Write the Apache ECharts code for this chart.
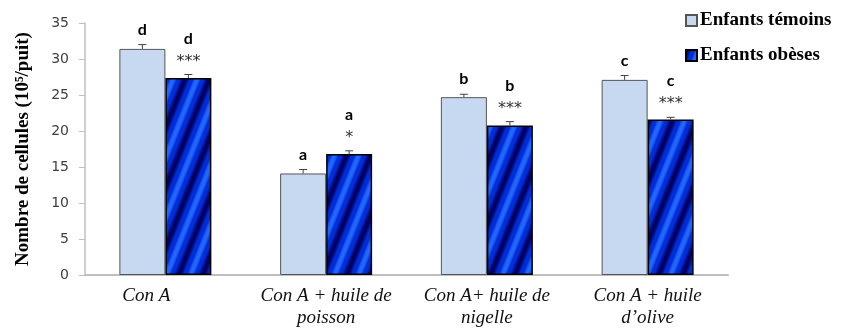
<!DOCTYPE html>
<html><head><meta charset="utf-8">
<script src="https://cdn.jsdelivr.net/npm/echarts@6/dist/echarts.min.js"></script>
<style>html,body{margin:0;padding:0;background:#fff}#c{width:841px;height:329px}</style>
</head><body><div id="c"></div>
<script>
const categories = ['Con A', 'Con A + huile de\npoisson', 'Con A+ huile de\nnigelle', 'Con A + huile\nd\u2019olive'];
const seriesNames = ['Enfants t\u00e9moins', 'Enfants ob\u00e8ses'];
const temoins = [31.4, 14.1, 24.7, 27.1];
const temoinsErr = [0.6, 0.55, 0.4, 0.6];
const obeses = [27.35, 16.8, 20.75, 21.6];
const obesesErr = [0.5, 0.45, 0.55, 0.3];
const temoinsLetters = ['d', 'a', 'b', 'c'];
const obesesLetters = ['d', 'a', 'b', 'c'];
const obesesStars = ['***', '*', '***', '***'];
const yTicks = [0, 5, 10, 15, 20, 25, 30, 35];

const BAR_W = 46;

// striped pattern for obese bars
function makePattern() {
  const P = 24, H = 60;
  const cv = document.createElement('canvas');
  cv.width = P; cv.height = H;
  const ctx = cv.getContext('2d');
  const img = ctx.createImageData(P, H);
  const dark = [0, 0, 95], mid = [0, 45, 215], bright = [35, 105, 255];
  for (let y = 0; y < H; y++) {
    for (let x = 0; x < P; x++) {
      let ph = ((x + y * 0.4) / P) % 1;
      const t = 0.5 - 0.5 * Math.cos(2 * Math.PI * ph);
      let c;
      if (t < 0.35) { const u = t / 0.35; c = dark.map((d, i) => d + (mid[i] - d) * u); }
      else if (t < 0.75) { c = mid; }
      else { const u = (t - 0.75) / 0.25; c = mid.map((d, i) => d + (bright[i] - d) * u); }
      const k = (y * P + x) * 4;
      img.data[k] = c[0]; img.data[k + 1] = c[1]; img.data[k + 2] = c[2]; img.data[k + 3] = 255;
    }
  }
  ctx.putImageData(img, 0, 0);
  return cv;
}
const pattern = { image: makePattern(), repeat: 'repeat' };

const chart = echarts.init(document.getElementById('c'), null, { renderer: 'canvas' });

function annotRender(letters, stars, side) {
  return function (params, api) {
    const i = api.value(0);
    const v = api.value(1);
    const e = api.value(2);
    const base = api.coord([i, v]);
    const top = api.coord([i, v + e]);
    const x = base[0] + side * BAR_W / 2;
    const children = [
      { type: 'line', shape: { x1: x, y1: base[1], x2: x, y2: top[1] }, style: { stroke: '#404040', lineWidth: 1 } },
      { type: 'line', shape: { x1: x - 4, y1: top[1], x2: x + 4, y2: top[1] }, style: { stroke: '#404040', lineWidth: 1 } }
    ];
    const font = 'bold 16px Lato, "Open Sans", sans-serif';
    if (stars) {
      children.push({ type: 'text', style: { text: stars[params.dataIndex], x: x, y: top[1] - 13, textAlign: 'center', textVerticalAlign: 'middle', font: '16px "DejaVu Sans", sans-serif', fill: '#333' } });
      children.push({ type: 'text', style: { text: letters[params.dataIndex], x: x, y: top[1] - 36, textAlign: 'center', textVerticalAlign: 'middle', font: font, fill: '#000' } });
    } else {
      children.push({ type: 'text', style: { text: letters[params.dataIndex], x: x, y: top[1] - 15, textAlign: 'center', textVerticalAlign: 'middle', font: font, fill: '#000' } });
    }
    return { type: 'group', children: children };
  };
}

const catData = categories.map((c, i) => i === 0 ? { value: c, textStyle: { padding: [0, 38, 0, 0] } } : c);

chart.setOption({
  animation: false,
  backgroundColor: '#fff',
  grid: { left: 85, right: 113, top: 23, bottom: 54, containLabel: false, outerBoundsMode: 'none' },
  legend: {
    orient: 'vertical', left: 685, top: 11, padding: 0, icon: 'rect', itemWidth: 11, itemHeight: 11, itemGap: 16,
    textStyle: { fontFamily: '"Liberation Serif", serif', fontWeight: 'bold', fontSize: 19, color: '#000', padding: [0, 0, 0, -2] },
    data: seriesNames
  },
  xAxis: {
    type: 'category', data: catData,
    axisLine: { lineStyle: { color: '#bfbfbf', width: 2 } },
    axisTick: { show: false },
    axisLabel: { fontFamily: '"Liberation Serif", serif', fontStyle: 'italic', fontSize: 19, color: '#111', lineHeight: 22, margin: 10, interval: 0 }
  },
  yAxis: {
    type: 'value', min: yTicks[0], max: yTicks[yTicks.length - 1], interval: 5,
    name: 'Nombre de cellules (10\u2075/puit)', nameLocation: 'middle', nameGap: 52,
    nameTextStyle: { fontFamily: '"Liberation Serif", serif', fontWeight: 'bold', fontSize: 19, color: '#000' },
    axisLine: { show: true, lineStyle: { color: '#bfbfbf', width: 1.5 } },
    axisTick: { show: true, length: 6, lineStyle: { color: '#bfbfbf' } },
    splitLine: { show: false },
    axisLabel: { fontFamily: '"DejaVu Sans", sans-serif', fontSize: 14, color: '#404040', margin: 16 }
  },
  series: [
    { name: seriesNames[0], type: 'bar', data: temoins, barWidth: BAR_W, barGap: '0%',
      itemStyle: { color: '#c6d9f0', borderColor: '#555', borderWidth: 1 } },
    { name: seriesNames[1], type: 'bar', data: obeses, barWidth: BAR_W, barGap: '0%',
      itemStyle: { color: pattern, borderColor: '#000', borderWidth: 1.5 } },
    { type: 'custom', silent: true, z: 5,
      data: temoins.map((v, i) => [i, v, temoinsErr[i]]),
      renderItem: annotRender(temoinsLetters, null, -1) },
    { type: 'custom', silent: true, z: 5,
      data: obeses.map((v, i) => [i, v, obesesErr[i]]),
      renderItem: annotRender(obesesLetters, obesesStars, 1) }
  ]
});
</script></body></html>
